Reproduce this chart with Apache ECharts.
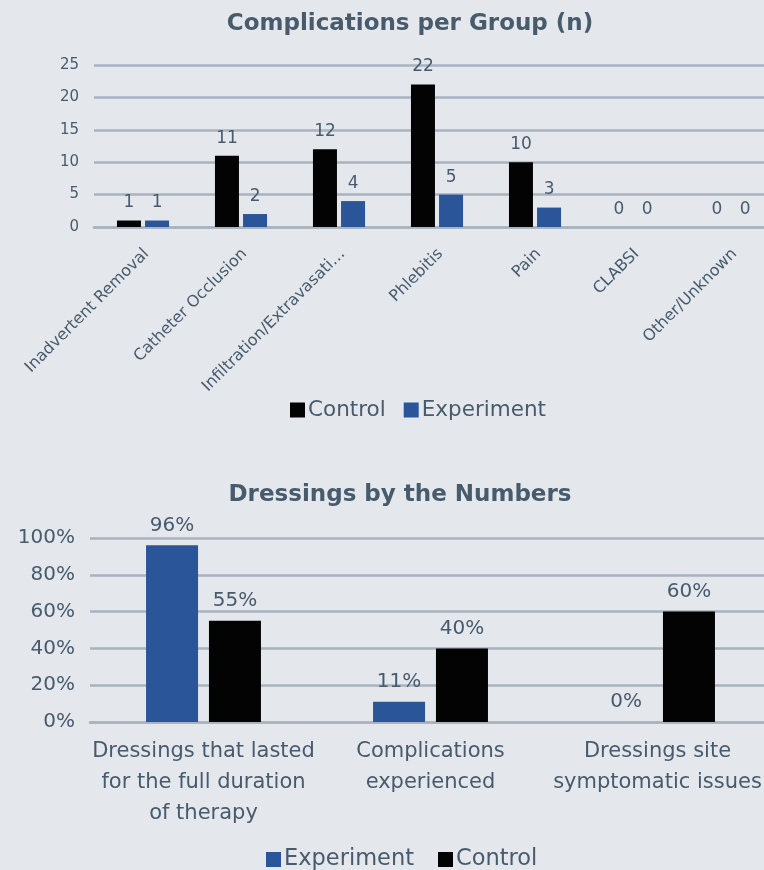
<!DOCTYPE html>
<html><head><meta charset="utf-8">
<script src="https://cdn.jsdelivr.net/npm/echarts@6/dist/echarts.min.js"></script>
<style>html,body{margin:0;padding:0;background:#e4e7ec;overflow:hidden;}#c{width:800px;height:870px;}</style>
</head><body><div id="c"></div>
<script>
const topTitle = 'Complications per Group (n)';
const topCategories = ['Inadvertent Removal','Catheter Occlusion','Infiltration/Extravasati…','Phlebitis','Pain','CLABSI','Other/Unknown'];
const topControl = [1,11,12,22,10,0,0];
const topExperiment = [1,2,4,5,3,0,0];
const topYTicks = [0,5,10,15,20,25];

const bottomTitle = 'Dressings by the Numbers';
const bottomCategories = ['Dressings that lasted\nfor the full duration\nof therapy','Complications\nexperienced','Dressings site\nsymptomatic issues'];
const bottomExperiment = [96,11,0];
const bottomControl = [55,40,60];
const bottomYTicks = [0,20,40,60,80,100];

const TXT = '#475b6d';
const GRIDC = '#a8b3bf';
const BLUE = '#2a5599';
const BLACK = '#030303';
const FONT = 'DejaVu Sans';

const chart = echarts.init(document.getElementById('c'), null, {renderer:'canvas'});
chart.setOption({
  backgroundColor:'#e4e7ec',
  animation:false,
  textStyle:{fontFamily:FONT},
  title:[
    {text:topTitle, left:405, top:8, textAlign:'center', textStyle:{fontFamily:FONT,fontSize:23,fontWeight:'bold',color:TXT}},
    {text:bottomTitle, left:395, top:479, textAlign:'center', textStyle:{fontFamily:FONT,fontSize:23,fontWeight:'bold',color:TXT}}
  ],
  legend:[
    {data:['Control','Experiment'], left:285, top:394, icon:'rect', itemWidth:15, itemHeight:15, itemGap:18,
     textStyle:{fontFamily:FONT,fontSize:21.5,color:TXT,padding:[0,0,0,-2]}},
    {data:['Experiment','Control'], left:261, top:843, icon:'rect', itemWidth:15, itemHeight:15, itemGap:24,
     textStyle:{fontFamily:FONT,fontSize:22.5,color:TXT,padding:[0,0,0,-2]}}
  ],
  grid:[
    {left:94, top:65, width:686, height:162, containLabel:false},
    {left:90, top:538, width:681, height:184, containLabel:false}
  ],
  xAxis:[
    {type:'category', gridIndex:0, data:topCategories,
     axisLine:{show:true,lineStyle:{color:GRIDC,width:2.5}}, axisTick:{show:false},
     axisLabel:{rotate:45, interval:0, margin:28, fontFamily:FONT, fontSize:16, color:TXT, padding:[0,-5,0,0]}},
    {type:'category', gridIndex:1, data:bottomCategories,
     axisLine:{show:true,lineStyle:{color:GRIDC,width:2.5}}, axisTick:{show:false},
     axisLabel:{interval:0, margin:14, fontFamily:FONT, fontSize:21, color:TXT, lineHeight:31, align:'center', verticalAlign:'top'}}
  ],
  yAxis:[
    {type:'value', gridIndex:0, min:topYTicks[0], max:topYTicks[topYTicks.length-1], interval:topYTicks[1]-topYTicks[0],
     axisLine:{show:false}, axisTick:{show:false},
     splitLine:{lineStyle:{color:GRIDC,width:2.5}},
     axisLabel:{margin:15, fontFamily:FONT, fontSize:15, color:TXT}},
    {type:'value', gridIndex:1, min:bottomYTicks[0], max:bottomYTicks[bottomYTicks.length-1], interval:bottomYTicks[1]-bottomYTicks[0],
     axisLine:{show:false}, axisTick:{show:false},
     splitLine:{lineStyle:{color:GRIDC,width:2.5}},
     axisLabel:{margin:15, fontFamily:FONT, fontSize:20, color:TXT, formatter:v=>v+'%'}}
  ],
  series:[
    {name:'Control', type:'bar', xAxisIndex:0, yAxisIndex:0, data:topControl, barWidth:24, barGap:'17%',
     itemStyle:{color:BLACK},
     label:{show:true, position:'top', distance:9, fontFamily:FONT, fontSize:17, color:TXT}},
    {name:'Experiment', type:'bar', xAxisIndex:0, yAxisIndex:0, data:topExperiment, barWidth:24, barGap:'17%',
     itemStyle:{color:BLUE},
     label:{show:true, position:'top', distance:9, fontFamily:FONT, fontSize:17, color:TXT}},
    {name:'Experiment', type:'bar', xAxisIndex:1, yAxisIndex:1, data:bottomExperiment, barWidth:52, barGap:'21%',
     itemStyle:{color:BLUE},
     label:{show:true, position:'top', distance:10, fontFamily:FONT, fontSize:20, color:TXT, formatter:p=>p.value+'%'}},
    {name:'Control', type:'bar', xAxisIndex:1, yAxisIndex:1, data:bottomControl, barWidth:52, barGap:'21%',
     itemStyle:{color:BLACK},
     label:{show:true, position:'top', distance:10, fontFamily:FONT, fontSize:20, color:TXT, formatter:p=>p.value+'%'}}
  ]
});
</script></body></html>
